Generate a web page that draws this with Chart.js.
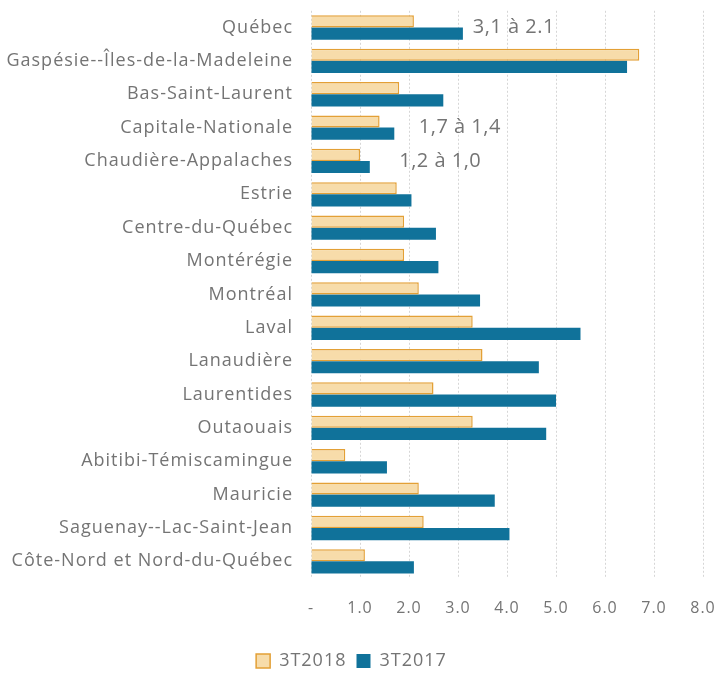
<!DOCTYPE html>
<html>
<head>
<meta charset="utf-8">
<script src="https://cdn.jsdelivr.net/npm/chart.js@4"></script>
<style>
html,body{margin:0;padding:0;background:#fff;}
#wrap{width:717px;height:675px;}
</style>
</head>
<body>
<div id="wrap"><canvas id="c" width="717" height="675"></canvas></div>
<script>
const categories = ["Québec","Gaspésie--Îles-de-la-Madeleine","Bas-Saint-Laurent","Capitale-Nationale","Chaudière-Appalaches","Estrie","Centre-du-Québec","Montérégie","Montréal","Laval","Lanaudière","Laurentides","Outaouais","Abitibi-Témiscamingue","Mauricie","Saguenay--Lac-Saint-Jean","Côte-Nord et Nord-du-Québec"];
const series2018 = [2.1,6.7,1.8,1.4,1.0,1.75,1.9,1.9,2.2,3.3,3.5,2.5,3.3,0.7,2.2,2.3,1.1];
const series2017 = [3.1,6.45,2.7,1.7,1.2,2.05,2.55,2.6,3.45,5.5,4.65,5.0,4.8,1.55,3.75,4.05,2.1];
const seriesNames = ["3T2018","3T2017"];
const tickLabels = ["-","1.0","2.0","3.0","4.0","5.0","6.0","7.0","8.0"];
const annotations = [
  {text:"3,1 à 2.1", category:0, x:3.3},
  {text:"1,7 à 1,4", category:3, x:2.2},
  {text:"1,2 à 1,0", category:4, x:1.8}
];
const FONT = "'Open Sans', Lato, sans-serif";
const TXT = "#747474";
const LS = '1px';

const spacingPlugin = {
  id:'spacing',
  beforeInit(chart){ chart.ctx.letterSpacing = LS; },
  beforeUpdate(chart){ chart.ctx.letterSpacing = LS; },
  beforeDraw(chart){ chart.ctx.letterSpacing = LS; }
};

const annotPlugin = {
  id:'annot',
  afterDatasetsDraw(chart){
    const ctx = chart.ctx, xs = chart.scales.x, ys = chart.scales.y;
    ctx.save();
    ctx.font = "20px " + FONT;
    ctx.letterSpacing = '0.5px';
    ctx.fillStyle = TXT;
    ctx.textBaseline = "middle";
    ctx.textAlign = "left";
    annotations.forEach(a=>{
      ctx.fillText(a.text, xs.getPixelForValue(a.x), ys.getPixelForValue(a.category));
    });
    ctx.restore();
  }
};

new Chart(document.getElementById('c'), {
  type:'bar',
  data:{
    labels:categories,
    datasets:[
      {label:seriesNames[0], data:series2018, backgroundColor:'#f7dcaa', borderColor:'#e3a036', borderWidth:1.5, borderSkipped:'left'},
      {label:seriesNames[1], data:series2017, backgroundColor:'#10729a', borderColor:'#10729a', borderWidth:0}
    ]
  },
  options:{
    indexAxis:'y',
    responsive:false,
    animation:false,
    devicePixelRatio:1,
    layout:{padding:{top:10,right:14,left:0,bottom:-5}},
    datasets:{bar:{categoryPercentage:0.73,barPercentage:1.0}},
    scales:{
      x:{
        min:0,max:8,
        ticks:{stepSize:1,color:TXT,font:{family:FONT,size:16},padding:0,
          callback:(v,i)=>tickLabels[i]},
        grid:{color:'#d6d6d6',drawTicks:true,tickLength:21,tickColor:'rgba(0,0,0,0)',lineWidth:1},
        border:{display:false,dash:[2,2]},
        afterFit:s=>{s.height=64;}
      },
      y:{
        ticks:{color:TXT,font:{family:FONT,size:18},padding:0,autoSkip:false},
        grid:{display:true,drawOnChartArea:false,drawTicks:true,tickLength:18,color:'rgba(0,0,0,0)',tickColor:'rgba(0,0,0,0)'},
        border:{display:false},
        afterFit:s=>{s.width=311;}
      }
    },
    plugins:{
      legend:{position:'bottom',
        labels:{color:TXT,font:{family:FONT,size:18},boxWidth:14,boxHeight:14,padding:10}},
      tooltip:{enabled:false}
    }
  },
  plugins:[spacingPlugin, annotPlugin]
});
</script>
</body>
</html>
